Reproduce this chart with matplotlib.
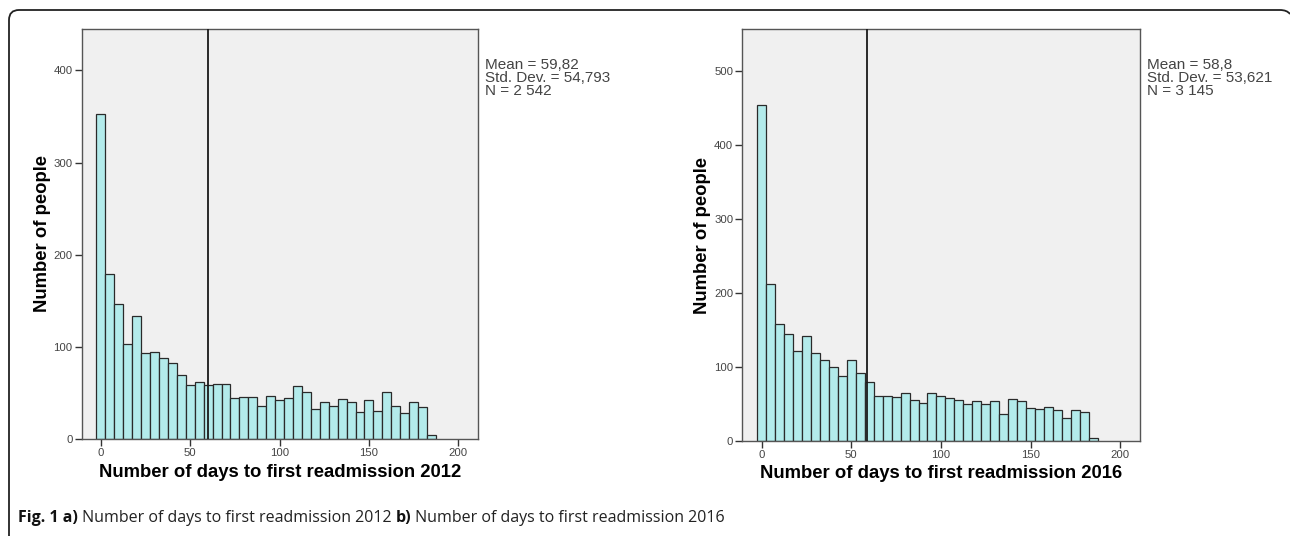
import numpy as np
import matplotlib
matplotlib.use("Agg")
import matplotlib.pyplot as plt
from matplotlib.path import Path
from matplotlib.patches import PathPatch

# Bins of 5 days, centred on 0, 5, 10, ... 185
bin_centres = list(range(0, 190, 5))

counts_2012 = [353, 179, 146, 103, 133, 93, 94, 88, 83, 69, 59, 62, 59, 60, 60,
               44, 46, 46, 36, 47, 42, 44, 58, 51, 33, 40, 36, 43, 40, 29, 42,
               30, 51, 36, 28, 40, 35, 4]
counts_2016 = [454, 212, 158, 144, 121, 142, 119, 109, 99, 88, 109, 91, 79, 60,
               60, 59, 65, 55, 51, 64, 61, 58, 55, 50, 53, 50, 53, 36, 56, 54,
               44, 43, 45, 41, 31, 42, 39, 4]

means = [59.82, 58.8]
stats_2012 = ["Mean = 59,82", "Std. Dev. = 54,793", "N = 2 542"]
stats_2016 = ["Mean = 58,8", "Std. Dev. = 53,621", "N = 3 145"]
xlabels = ["Number of days to first readmission 2012",
           "Number of days to first readmission 2016"]
x_ticks = [0, 50, 100, 150, 200]
y_ticks_2012 = [0, 100, 200, 300, 400]
y_ticks_2016 = [0, 100, 200, 300, 400, 500]

caption_parts = [("Fig. 1 a)", "bold"),
                 (" Number of days to first readmission 2012 ", "normal"),
                 ("b)", "bold"),
                 (" Number of days to first readmission 2016", "normal")]

BAR_COLOR = "#b3ebeb"
BG_COLOR = "#f0f0f0"

fig = plt.figure(figsize=(12.9, 5.36), dpi=100)

painel = [
    ([0.0633, 0.181, 0.3072, 0.7649], counts_2012, means[0], stats_2012,
     xlabels[0], y_ticks_2012, 445),
    ([0.5754, 0.1778, 0.3083, 0.7675], counts_2016, means[1], stats_2016,
     xlabels[1], y_ticks_2016, 556),
]

for pos, contagens, media, stats, xlab, yticks, ytop in painel:
    ax = fig.add_axes(pos)
    ax.set_facecolor(BG_COLOR)
    ax.bar(bin_centres, contagens, width=5, color=BAR_COLOR,
           edgecolor="#2a2a2a", linewidth=0.9, zorder=2)
    ax.axvline(media, color="#1a1a1a", linewidth=1.3, zorder=3)
    ax.set_xlim(-10.8, 211)
    ax.set_ylim(0, ytop)
    ax.set_xticks(x_ticks)
    ax.set_yticks(yticks)
    ax.tick_params(direction="out", length=5, width=1, color="#333333",
                   labelsize=8.2, labelcolor="#444444", pad=1.5)
    for lab in ax.get_xticklabels() + ax.get_yticklabels():
        lab.set_family("Liberation Sans")
    for s in ax.spines.values():
        s.set_color("#555555")
        s.set_linewidth(1.0)
    ax.set_xlabel(xlab, family="Liberation Sans", fontweight="bold",
                  fontsize=13.3, labelpad=4)
    ax.set_ylabel("Number of people", family="Liberation Sans",
                  fontweight="bold", fontsize=13.3, labelpad=2)
    # Caixa de estatisticas
    ax.text(1.018, 0.93, "\n".join(stats), transform=ax.transAxes,
            family="Liberation Sans", fontsize=11, color="#444444",
            va="top", ha="left", linespacing=0.92)

# Moldura arredondada da figura
W, H = 1290.0, 536.0
pts = [(9, 536), (9, 20), (9, 10), (19, 10), (1280, 10), (1287, 10), (1290, 14)]
codes = [Path.MOVETO, Path.LINETO, Path.CURVE3, Path.CURVE3, Path.LINETO,
         Path.CURVE3, Path.CURVE3]
pts = [(x / W, 1 - y / H) for x, y in pts]
fig.patches.append(PathPatch(Path(pts, codes), transform=fig.transFigure,
                             fill=False, edgecolor="#222222", linewidth=1.3))

# Legenda da figura, pecas colocadas em sequencia
renderer = fig.canvas.get_renderer()
x_px = 18.0
for texto, peso in caption_parts:
    t = fig.text(x_px / W, 1 - 518 / H, texto, family="Open Sans",
                 fontweight=peso, fontsize=11.5, va="center", ha="left",
                 color="#111111" if peso == "bold" else "#222222")
    x_px += t.get_window_extent(renderer).width

fig.savefig("out.png", dpi=100)
